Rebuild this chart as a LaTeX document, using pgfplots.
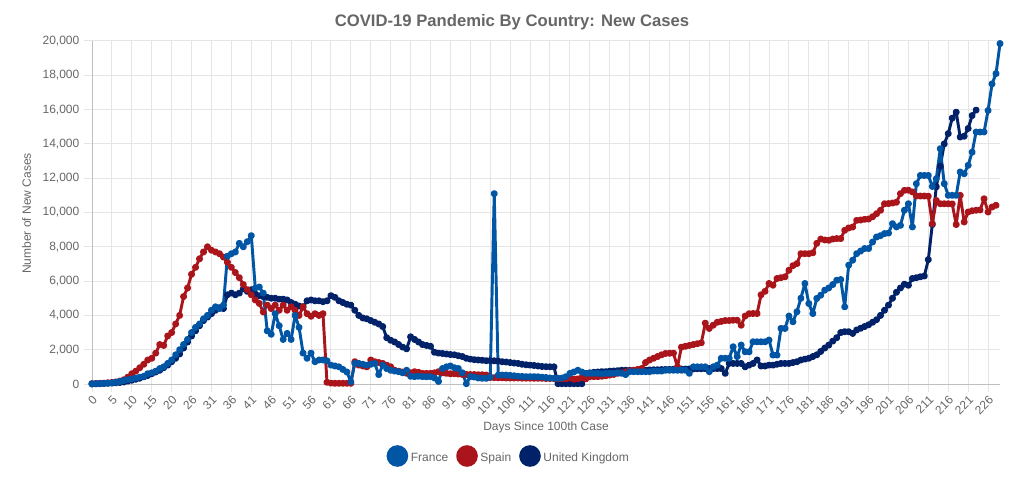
\documentclass[border=0pt]{standalone}
\usepackage{pgfplots}
\pgfplotsset{compat=1.18}
\usepackage{pgfplotstable}
\usepackage{fontspec}
\setmainfont{Liberation Sans}
\definecolor{fr}{HTML}{0055A4}
\definecolor{es}{HTML}{AA151B}
\definecolor{uk}{HTML}{012169}
\definecolor{txt}{HTML}{666666}

\pgfplotstableread{
x y
0 10
1 20
2 30
3 40
4 50
5 70
6 100
7 150
8 200
9 250
10 300
11 350
12 400
13 450
14 600
15 650
16 750
17 900
18 1000
19 1200
20 1400
21 1700
22 2000
23 2300
24 2600
25 3000
26 3300
27 3500
28 3800
29 4000
30 4300
31 4500
32 4400
33 4600
34 7450
35 7600
36 7700
37 8200
38 8000
39 8300
40 8650
41 5600
42 5650
43 5300
44 3100
45 2900
46 4100
47 3400
48 2600
49 2950
50 2600
51 4000
52 3300
53 1800
54 1500
55 1800
56 1300
57 1400
58 1400
59 1350
60 1100
61 1050
62 1000
63 850
64 700
65 130
66 1200
67 1200
68 1150
69 1100
70 1150
71 1200
72 550
73 1100
74 900
75 800
76 750
77 720
78 650
79 800
80 450
81 430
82 450
83 430
84 420
85 430
86 350
87 150
88 900
89 1000
90 1050
91 950
92 900
93 650
94 20
95 430
96 400
97 350
98 330
99 330
100 400
101 11100
102 520
103 520
104 520
105 500
106 480
107 450
108 440
109 430
110 430
111 430
112 420
113 400
114 380
115 350
116 330
117 330
118 350
119 430
120 620
121 700
122 800
123 700
124 620
125 620
126 620
127 620
128 600
129 620
130 620
131 620
132 650
133 620
134 550
135 720
136 720
137 720
138 720
139 720
140 720
141 750
142 750
143 750
144 800
145 800
146 800
147 800
148 800
149 800
150 620
151 1000
152 1000
153 1000
154 1000
155 720
156 1000
157 1100
158 1500
159 1500
160 1500
161 2170
162 1600
163 2270
164 1880
165 1880
166 2460
167 2460
168 2460
169 2460
170 2560
171 1690
172 1690
173 3240
174 3240
175 3960
176 3630
177 4210
178 5000
179 5860
180 4690
181 4110
182 4990
183 5180
184 5470
185 5600
186 5800
187 6050
188 6090
189 4500
190 6930
191 7220
192 7600
193 7750
194 7900
195 7900
196 8280
197 8570
198 8650
199 8770
200 8800
201 9350
202 9160
203 9250
204 10130
205 10510
206 9160
207 11680
208 12160
209 12160
210 12160
211 11520
212 11970
213 13720
214 11680
215 11000
216 11000
217 11000
218 12360
219 12260
220 12750
221 13520
222 14690
223 14690
224 14700
225 15950
226 17500
227 18100
228 19850
}\francedata

\pgfplotstableread{
x y
0 20
1 30
2 40
3 50
4 70
5 90
6 120
7 170
8 250
9 400
10 600
11 750
12 950
13 1150
14 1400
15 1500
16 1800
17 2300
18 2250
19 2800
20 3000
21 3500
22 4000
23 5100
24 5600
25 6400
26 6800
27 7300
28 7700
29 8000
30 7800
31 7700
32 7600
33 7400
34 7100
35 6800
36 6500
37 6200
38 5800
39 5500
40 5200
41 4900
42 4700
43 4200
44 4600
45 4400
46 4600
47 4300
48 4600
49 4300
50 4500
51 4300
52 4000
53 4500
54 4100
55 3950
56 4100
57 4000
58 4100
59 100
60 50
61 40
62 40
63 40
64 40
65 40
66 1300
67 1100
68 1050
69 1000
70 1400
71 1300
72 1250
73 1200
74 1100
75 1000
76 800
77 750
78 700
79 620
80 650
81 720
82 680
83 620
84 620
85 620
86 650
87 720
88 650
89 620
90 600
91 600
92 580
93 560
94 560
95 550
96 550
97 540
98 540
99 520
100 380
101 370
102 360
103 360
104 350
105 350
106 350
107 350
108 340
109 340
110 340
111 330
112 330
113 330
114 320
115 320
116 320
117 300
118 300
119 300
120 350
121 280
122 300
123 380
124 300
125 430
126 430
127 430
128 450
129 480
130 520
131 560
132 620
133 650
134 700
135 780
136 800
137 850
138 900
139 1250
140 1400
141 1500
142 1600
143 1700
144 1780
145 1790
146 1800
147 1000
148 2150
149 2200
150 2250
151 2300
152 2350
153 2400
154 3550
155 3240
156 3430
157 3600
158 3650
159 3700
160 3700
161 3720
162 3720
163 3430
164 3960
165 4100
166 4110
167 4110
168 5200
169 5400
170 5860
171 5760
172 6150
173 6200
174 6250
175 6630
176 6900
177 7020
178 7600
179 7600
180 7600
181 7650
182 8200
183 8450
184 8400
185 8380
186 8450
187 8480
188 8480
189 8960
190 9100
191 9150
192 9540
193 9560
194 9600
195 9620
196 9750
197 9930
198 10130
199 10510
200 10520
201 10550
202 10600
203 11100
204 11290
205 11300
206 11200
207 10960
208 10960
209 10960
210 10950
211 9350
212 10700
213 10510
214 10510
215 10510
216 10500
217 9300
218 11000
219 9450
220 10030
221 10100
222 10130
223 10150
224 10800
225 10030
226 10320
227 10420
}\spaindata

\pgfplotstableread{
x y
0 5
1 10
2 20
3 30
4 40
5 50
6 70
7 90
8 120
9 170
10 220
11 280
12 340
13 420
14 500
15 600
16 700
17 800
18 950
19 1100
20 1300
21 1500
22 1750
23 2100
24 2450
25 2800
26 3100
27 3400
28 3700
29 3900
30 4100
31 4300
32 4450
33 4400
34 5200
35 5300
36 5200
37 5300
38 5550
39 5400
40 5500
41 5250
42 5150
43 5100
44 5050
45 5000
46 5000
47 4950
48 4950
49 4900
50 4750
51 4650
52 4550
53 4500
54 4850
55 4900
56 4850
57 4850
58 4800
59 4850
60 5150
61 5050
62 4850
63 4750
64 4650
65 4600
66 4300
67 4000
68 3850
69 3800
70 3700
71 3600
72 3500
73 3350
74 2700
75 2550
76 2450
77 2300
78 2150
79 2050
80 2750
81 2600
82 2450
83 2300
84 2250
85 2200
86 1850
87 1800
88 1780
89 1750
90 1720
91 1700
92 1650
93 1600
94 1500
95 1450
96 1420
97 1400
98 1380
99 1360
100 1360
101 1350
102 1330
103 1300
104 1280
105 1250
106 1220
107 1200
108 1150
109 1120
110 1100
111 1080
112 1050
113 1020
114 1010
115 1000
116 1000
117 20
118 20
119 20
120 20
121 20
122 20
123 20
124 620
125 650
126 680
127 700
128 720
129 720
130 750
131 760
132 780
133 800
134 800
135 800
136 800
137 800
138 800
139 810
140 820
141 830
142 830
143 840
144 850
145 850
146 860
147 860
148 870
149 870
150 880
151 880
152 890
153 890
154 900
155 900
156 900
157 900
158 900
159 620
160 1200
161 1200
162 1200
163 1200
164 1000
165 1100
166 1200
167 1400
168 1050
169 1050
170 1100
171 1100
172 1150
173 1200
174 1200
175 1200
176 1250
177 1300
178 1400
179 1450
180 1500
181 1600
182 1700
183 1900
184 2100
185 2270
186 2500
187 2700
188 3000
189 3050
190 3050
191 2950
192 3150
193 3250
194 3350
195 3450
196 3600
197 3750
198 4000
199 4300
200 4600
201 5000
202 5350
203 5600
204 5820
205 5760
206 6150
207 6200
208 6250
209 6300
210 7250
211 9300
212 11500
213 12700
214 14000
215 14600
216 15500
217 15850
218 14400
219 14450
220 14900
221 15650
222 15970
}\ukdata

\begin{document}
\begin{tikzpicture}
\useasboundingbox (0,0) rectangle (768pt,361.5pt);
\begin{axis}[
  at={(69pt,73.5pt)}, anchor=south west,
  scale only axis, width=681pt, height=257.25pt,
  xmin=0, xmax=228, ymin=0, ymax=20000,
  clip=false,
  axis x line*=bottom, axis y line*=left,
  axis line style={black!25, line width=0.75pt, -},
  grid=major, grid style={black!10, line width=0.75pt},
  tick align=outside, major tick length=6pt,
  tick style={black!10, line width=0.75pt},
  xtick={0,5,...,225},
  xticklabels={0,5,10,15,20,26,31,36,41,46,51,56,61,66,71,76,81,86,91,96,101,106,111,116,121,126,131,136,141,146,151,156,161,166,171,176,181,186,191,196,201,206,211,216,221,226},
  ytick={0,2000,...,20000},
  scaled y ticks=false,
  yticklabel style={/pgf/number format/.cd, 1000 sep={,}, assume math mode=true},
  ticklabel style={font=\fontsize{9}{10}\selectfont, text=txt},
  xticklabel style={rotate=45, anchor=north east, inner sep=1.5pt},
  legend columns=3,
  legend style={draw=none, fill=none, at={(0.4593,-0.2099)}, anchor=center,
    font=\fontsize{9}{10}\selectfont, text=txt,
    /tikz/every even column/.append style={column sep=4pt}},
  legend cell align=left,
  every axis plot/.append style={line width=2.2pt, line join=round, mark=*, mark size=1.5pt},
]
\addlegendimage{legend image code/.code={\fill[fr] (7pt,1.6pt) circle (7pt);}}
\addlegendentry{France}
\addlegendimage{legend image code/.code={\fill[es] (7pt,1.6pt) circle (7pt);}}
\addlegendentry{Spain}
\addlegendimage{legend image code/.code={\fill[uk] (7pt,1.6pt) circle (7pt);}}
\addlegendentry{United Kingdom}
\addplot[uk, forget plot] table {\ukdata};
\addplot[es, forget plot] table {\spaindata};
\addplot[fr, forget plot] table {\francedata};
\end{axis}
\node[anchor=base, font=\bfseries\fontsize{12.5}{14}\selectfont, text=txt] at (384pt,341.25pt) {COVID-19 Pandemic By Country: New Cases};
\node[anchor=base, font=\fontsize{9}{10}\selectfont, text=txt] at (409.5pt,38.25pt) {Days Since 100th Case};
\node[anchor=base, rotate=90, font=\fontsize{9}{10}\selectfont, text=txt] at (23.25pt,201.4pt) {Number of New Cases};
\end{tikzpicture}
\end{document}
